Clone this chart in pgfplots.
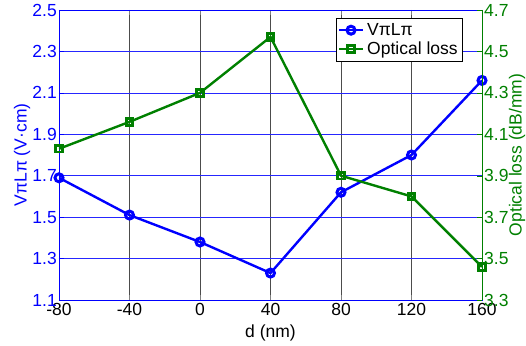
\documentclass[border=0pt]{standalone}
\usepackage{pgfplots}
\pgfplotsset{compat=1.18}
\usepackage{fontspec}
\setmainfont{Liberation Sans}

\definecolor{mblue}{RGB}{0,0,255}
\definecolor{mgreen}{RGB}{0,128,0}

\pgfplotsset{
  common/.style={
    scale only axis, width=423pt, height=290pt,
    xmin=-80, xmax=160,
    /pgf/number format/assume math mode=true,
    tick label style={font=\fontsize{17.5}{18}\selectfont},
    label style={font=\fontsize{17.5}{18}\selectfont},
    tick align=inside, major tick length=5pt,
  },
  legline/.style={
    legend image code/.code={
      \draw[mark repeat=2, mark phase=2, ##1]
        plot coordinates {(0pt,0pt) (12pt,0pt) (24pt,0pt)};
    }
  },
}

\begin{document}
\begin{tikzpicture}
\begin{axis}[common, legline, name=ax,
  ymin=1.1, ymax=2.5,
  ytick={1.1,1.3,...,2.5},
  xtick={-80,-40,...,160},
  ytick pos=left,
  yticklabel style={mblue, inner sep=1pt, xshift=-1pt,
    /pgf/number format/fixed, /pgf/number format/precision=1, /pgf/number format/fixed zerofill},
  y axis line style={draw=mblue},
  ytick style={mblue},
  xlabel={d (nm)},
  xlabel style={yshift=-2pt},
  ylabel={VπLπ (V·cm)},
  ylabel style={mblue, at={(axis description cs:-0.087,0.5)}, anchor=center},
  grid=major,
  x grid style={black!70, line width=0.6pt},
  y grid style={mblue!85, line width=0.6pt},
  legend style={at={(0.955,0.972)}, anchor=north east, draw=black, line width=0.6pt,
    font=\fontsize{17.5}{18}\selectfont, inner xsep=2pt, inner ysep=4pt, row sep=3pt,
    nodes={inner xsep=3pt, inner ysep=1pt}},
  legend cell align=left,
]
\addplot[mblue, line width=2.4pt, mark=o, mark size=4pt,
  mark options={line width=3pt}]
  coordinates {(-80,1.69) (-40,1.51) (0,1.38) (40,1.23) (80,1.62) (120,1.80) (160,2.16)};
\addlegendentry{VπLπ}
\addlegendimage{mgreen, line width=2.4pt, mark=square, mark size=3.3pt, mark options={line width=2.8pt}}
\addlegendentry{Optical loss}
\end{axis}
\begin{axis}[common,
  ymin=3.3, ymax=4.7,
  ytick={3.3,3.5,...,4.7},
  axis x line=none,
  axis y line*=right,
  yticklabel style={mgreen, inner sep=1pt, xshift=1pt,
    /pgf/number format/fixed, /pgf/number format/precision=1, /pgf/number format/fixed zerofill},
  y axis line style={draw=mgreen, line width=0.6pt},
  ytick style={mgreen},
  ylabel={Optical loss (dB/mm)},
  ylabel style={mgreen, at={(axis description cs:1.083,0.5)}, anchor=center},
]
\addplot[mgreen, line width=2.4pt, mark=square, mark size=3.3pt,
  mark options={line width=2.8pt}]
  coordinates {(-80,4.03) (-40,4.16) (0,4.30) (40,4.57) (80,3.90) (120,3.80) (160,3.46)};
\end{axis}
\pgfresetboundingbox
\path[use as bounding box] ([xshift=-59pt,yshift=-45pt]ax.south west)
  rectangle ([xshift=44pt,yshift=10pt]ax.north east);
\end{tikzpicture}
\end{document}
